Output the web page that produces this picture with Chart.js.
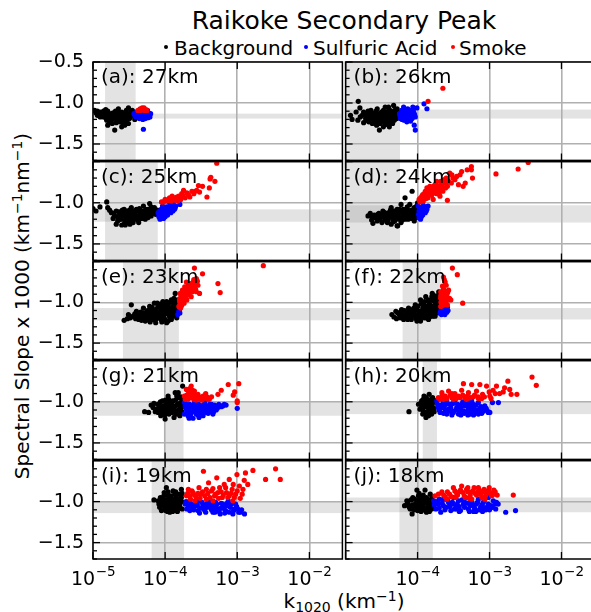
<!DOCTYPE html>
<html>
<head>
<meta charset="utf-8">
<script src="https://cdn.jsdelivr.net/npm/chart.js@4.4.1/dist/chart.umd.min.js"></script>
<style>
  html, body { margin: 0; padding: 0; background: #fff; }
  body { position: relative; width: 591px; height: 612px; overflow: hidden;
         font-family: 'DejaVu Sans', sans-serif; color: #000; }
  canvas { position: absolute; }
  .t { position: absolute; white-space: nowrap; line-height: 1; }
  .dot { position: absolute; width: 4px; height: 4px; border-radius: 50%; }
  .sup { font-size: 0.7em; position: relative; top: -0.5em; }
  .sub { font-size: 0.7em; position: relative; top: 0.3em; }
</style>
</head>
<body>
<div class="t" style="left:0;width:688px;text-align:center;top:8px;font-size:25px">Raikoke Secondary Peak</div>

<div class="dot" style="left:164px;top:45px;background:#000"></div>
<div class="t" style="left:174px;top:38px;font-size:20px">Background</div>
<div class="dot" style="left:304px;top:45px;background:#0000ff"></div>
<div class="t" style="left:313px;top:38px;font-size:20px">Sulfuric Acid</div>
<div class="dot" style="left:451px;top:45px;background:#ff0000"></div>
<div class="t" style="left:459px;top:38px;font-size:20px">Smoke</div>

<div class="t" style="left:22px;top:306px;font-size:20px;transform:translate(-50%,-50%) rotate(-90deg)">Spectral Slope x 1000 (km<span class="sup">−1</span>nm<span class="sup">−1</span>)</div>
<div class="t" style="left:0;width:688px;text-align:center;top:591px;font-size:20px">k<span class="sub">1020</span> (km<span class="sup">−1</span>)</div>

<script>
// ---- values: k1020 (km^-1) vs spectral slope x 1000, per altitude ----
const PANEL_LABELS = ['(a): 27km', '(b): 26km', '(c): 25km', '(d): 24km', '(e): 23km',
                      '(f): 22km', '(g): 21km', '(h): 20km', '(i): 19km', '(j): 18km'];

const bg27 = [[1.05e-5,-1.09],[1.15e-5,-1.10],[1.26e-5,-1.11],[1.4e-5,-1.10],[1.5e-5,-1.08],[1.6e-5,-1.10],[1.7e-5,-1.13],[1.55e-5,-1.15],[1.8e-5,-1.15],[1.9e-5,-1.12],[2.1e-5,-1.13],[2.25e-5,-1.07],[2.3e-5,-1.15],[2.5e-5,-1.11],[2.6e-5,-1.17],[2.75e-5,-1.12],[2.9e-5,-1.09],[3.1e-5,-1.06],[3.2e-5,-1.13],[3.4e-5,-1.10],[3.6e-5,-1.15],[3.8e-5,-1.20],[2.9e-5,-1.21],[2.6e-5,-1.25],[2.35e-5,-1.23],[2.15e-5,-1.21],[1.9e-5,-1.19],[1.7e-5,-1.23],[1.6e-5,-1.27],[2.0e-5,-1.33],[2.5e-5,-1.29],[2.75e-5,-1.27],[3.2e-5,-1.19],[1.4e-5,-1.17],[1.3e-5,-1.13],[1.26e-5,-1.17],[1.1e-5,-1.12],[3.5e-5,-1.09],[2.2e-5,-1.17],[2.4e-5,-1.18],[1.55e-5,-1.21],[1.85e-5,-1.25],[3.1e-5,-1.25],[4.0e-5,-1.13],[2.5e-5,-1.15],[2.0e-5,-1.15],[2.75e-5,-1.19],[2.25e-5,-1.11],[3.2e-5,-1.15],
  [1.2e-5,-1.14],[1.35e-5,-1.12],[1.45e-5,-1.14],[1.65e-5,-1.16],[1.75e-5,-1.18],[1.95e-5,-1.16],[2.05e-5,-1.10],[2.15e-5,-1.16],[2.3e-5,-1.19],[2.4e-5,-1.13],[2.55e-5,-1.20],[2.65e-5,-1.14],[2.85e-5,-1.16],[2.95e-5,-1.13],[3.0e-5,-1.18],[3.3e-5,-1.17],[3.5e-5,-1.13],[3.7e-5,-1.11],[1.8e-5,-1.21],[2.1e-5,-1.24],[2.45e-5,-1.22],[2.8e-5,-1.23],[1.5e-5,-1.18],[1.15e-5,-1.15]];
const sa27 = [[3.7e-5,-1.13],[4.0e-5,-1.11],[4.2e-5,-1.15],[4.5e-5,-1.13],[4.7e-5,-1.17],[5.0e-5,-1.11],[5.25e-5,-1.14],[5.5e-5,-1.12],[5.85e-5,-1.15],[6.15e-5,-1.17],[4.4e-5,-1.19],[4.9e-5,-1.20],[5.4e-5,-1.18],[4.1e-5,-1.17],[5.7e-5,-1.09],[6.3e-5,-1.13],[5.0e-5,-1.32],[4.6e-5,-1.10],[5.2e-5,-1.16],[3.9e-5,-1.17],
  [4.3e-5,-1.12],[4.8e-5,-1.14],[5.3e-5,-1.12],[5.6e-5,-1.14],[5.9e-5,-1.12],[4.3e-5,-1.16],[4.8e-5,-1.17],[5.3e-5,-1.19],[5.8e-5,-1.18],[6.0e-5,-1.15],[3.8e-5,-1.15],[4.5e-5,-1.18]];
const sm27 = [[4.2e-5,-1.09],[4.5e-5,-1.07],[4.8e-5,-1.06],[5.1e-5,-1.06],[5.4e-5,-1.08],[5.6e-5,-1.09],[4.6e-5,-1.09],[5.2e-5,-1.09]];

const bg26 = [[1.17e-5,-1.15],[1.23e-5,-1.20],[1.5e-5,-0.98],[1.58e-5,-1.06],[1.4e-5,-1.11],[1.48e-5,-1.21],[1.7e-5,-1.15],[1.78e-5,-1.11],[1.9e-5,-1.19],[2.0e-5,-1.13],[2.1e-5,-1.23],[2.25e-5,-1.09],[2.35e-5,-1.17],[2.45e-5,-1.13],[2.6e-5,-1.21],[2.75e-5,-1.07],[2.9e-5,-1.15],[2.95e-5,-1.33],[3.0e-5,-1.25],[3.15e-5,-1.11],[3.4e-5,-1.19],[3.55e-5,-1.05],[3.7e-5,-1.26],[3.8e-5,-1.13],[3.95e-5,-1.21],[4.15e-5,-1.09],[4.25e-5,-1.17],[4.5e-5,-1.25],[4.65e-5,-1.03],[4.9e-5,-1.13],[5.1e-5,-1.19],[5.2e-5,-1.07],[4.05e-5,-1.29],[3.35e-5,-1.29],[2.7e-5,-1.27],[2.35e-5,-1.25],[2.0e-5,-1.21],[1.78e-5,-1.24],[1.6e-5,-1.17],[2.5e-5,-1.17],[3.15e-5,-1.15],[3.55e-5,-1.13],[3.75e-5,-1.19],[4.4e-5,-1.15],[4.75e-5,-1.21],[3.0e-5,-1.19],[2.75e-5,-1.13],[2.25e-5,-1.15],[3.35e-5,-1.09],[3.95e-5,-1.05],
  [1.85e-5,-1.13],[1.95e-5,-1.16],[2.05e-5,-1.10],[2.15e-5,-1.19],[2.3e-5,-1.12],[2.4e-5,-1.20],[2.55e-5,-1.14],[2.65e-5,-1.10],[2.8e-5,-1.18],[2.85e-5,-1.22],[3.05e-5,-1.13],[3.2e-5,-1.22],[3.3e-5,-1.16],[3.45e-5,-1.11],[3.6e-5,-1.23],[3.7e-5,-1.16],[3.9e-5,-1.10],[4.0e-5,-1.15],[4.2e-5,-1.20],[4.35e-5,-1.11],[4.6e-5,-1.17],[4.8e-5,-1.09],[5.0e-5,-1.16],[5.3e-5,-1.12],[5.4e-5,-1.18],[4.1e-5,-1.24],[3.5e-5,-1.25],[2.5e-5,-1.24]];
const sa26 = [[5.6e-5,-1.13],[5.8e-5,-1.19],[6.0e-5,-1.09],[6.2e-5,-1.15],[6.5e-5,-1.21],[6.7e-5,-1.11],[7.0e-5,-1.17],[7.3e-5,-1.07],[7.5e-5,-1.13],[7.8e-5,-1.19],[8.1e-5,-1.10],[8.3e-5,-1.15],[8.6e-5,-1.05],[8.9e-5,-1.12],[9.3e-5,-1.17],[6.4e-5,-1.05],[7.1e-5,-1.23],[8.0e-5,-1.22],[9.0e-5,-1.27],[9.3e-5,-1.33],[1.23e-4,-1.01],[1.35e-4,-1.07],[9.8e-5,-1.06],[5.7e-5,-1.16],[6.9e-5,-1.14],[7.7e-5,-1.09],
  [5.9e-5,-1.12],[6.3e-5,-1.18],[6.6e-5,-1.14],[6.8e-5,-1.08],[7.2e-5,-1.12],[7.4e-5,-1.19],[7.9e-5,-1.14],[8.4e-5,-1.19],[8.7e-5,-1.09],[9.1e-5,-1.14],[6.1e-5,-1.20],[7.6e-5,-1.16]];
const sm26 = [[1.4e-4,-0.98],[2.25e-4,-0.82]];

const bg25 = [[1.0e-5,-1.07],[1.1e-5,-1.10],[1.25e-5,-1.05],[1.55e-5,-0.99],[1.6e-5,-1.06],[1.8e-5,-1.12],[2.0e-5,-1.16],[2.1e-5,-1.10],[2.35e-5,-1.20],[2.5e-5,-1.14],[2.7e-5,-1.08],[2.75e-5,-1.24],[2.9e-5,-1.18],[3.1e-5,-1.12],[3.25e-5,-1.26],[3.4e-5,-1.06],[3.6e-5,-1.20],[3.8e-5,-1.14],[4.0e-5,-1.08],[4.3e-5,-1.24],[4.5e-5,-1.17],[4.8e-5,-1.10],[5.0e-5,-1.04],[5.3e-5,-1.20],[5.5e-5,-1.13],[5.8e-5,-1.08],[6.1e-5,-1.01],[6.4e-5,-1.16],[6.75e-5,-1.10],[7.1e-5,-1.06],[7.4e-5,-1.14],[7.8e-5,-1.09],[2.2e-5,-1.22],[2.5e-5,-1.27],[3.4e-5,-1.22],[4.0e-5,-1.20],[5.0e-5,-1.18],[3.1e-5,-1.20],[1.9e-5,-1.19],[2.1e-5,-1.26],[2.6e-5,-1.16],[3.25e-5,-1.14],[4.5e-5,-1.12],[5.8e-5,-1.18],[6.4e-5,-1.05],[3.6e-5,-1.10],[2.9e-5,-1.10],[2.35e-5,-1.14],[5.4e-5,-1.08],
  [1.7e-5,-1.09],[1.95e-5,-1.13],[2.2e-5,-1.17],[2.3e-5,-1.11],[2.45e-5,-1.20],[2.55e-5,-1.09],[2.65e-5,-1.13],[2.8e-5,-1.21],[2.85e-5,-1.14],[3.0e-5,-1.16],[3.2e-5,-1.09],[3.3e-5,-1.18],[3.5e-5,-1.14],[3.7e-5,-1.17],[3.9e-5,-1.11],[4.1e-5,-1.16],[4.2e-5,-1.21],[4.4e-5,-1.07],[4.6e-5,-1.14],[4.7e-5,-1.19],[4.9e-5,-1.12],[5.2e-5,-1.15],[5.6e-5,-1.10],[5.7e-5,-1.16],[6.0e-5,-1.12],[6.2e-5,-1.08],[6.6e-5,-1.13],[6.9e-5,-1.07],[7.2e-5,-1.11],[7.6e-5,-1.12],[3.0e-5,-1.24],[3.6e-5,-1.24],[2.8e-5,-1.27]];
const sa25 = [[8.0e-5,-1.12],[8.2e-5,-1.17],[8.8e-5,-1.08],[9.0e-5,-1.14],[9.5e-5,-1.19],[1.0e-4,-1.10],[1.05e-4,-1.05],[1.08e-4,-1.15],[1.12e-4,-1.09],[1.18e-4,-1.03],[1.2e-4,-1.12],[1.25e-4,-1.06],[1.3e-4,-1.02],[1.35e-4,-1.08],[1.4e-4,-1.04],[1.6e-4,-1.02],[9.2e-5,-1.04],[8.5e-5,-1.20],[1.0e-4,-1.17],[1.15e-4,-1.00],[9.7e-5,-1.12],[1.1e-4,-1.12],[1.28e-4,-1.10],
  [8.4e-5,-1.10],[8.7e-5,-1.15],[9.3e-5,-1.09],[9.6e-5,-1.15],[1.02e-4,-1.07],[1.04e-4,-1.13],[1.07e-4,-1.10],[1.14e-4,-1.06],[1.17e-4,-1.11],[1.22e-4,-1.08],[1.32e-4,-1.05],[1.38e-4,-1.06],[9.0e-5,-1.18]];
const sm25 = [[8.9e-5,-0.99],[1.05e-4,-0.98],[1.15e-4,-0.94],[1.3e-4,-0.96],[1.45e-4,-0.93],[1.6e-4,-0.95],[1.75e-4,-0.91],[1.9e-4,-0.94],[1.8e-4,-0.85],[2.1e-4,-0.90],[2.35e-4,-0.86],[2.5e-4,-0.89],[2.75e-4,-0.85],[2.9e-4,-0.79],[3.0e-4,-0.87],[3.3e-4,-0.80],[3.8e-4,-0.93],[4.1e-4,-0.82],[4.2e-4,-0.71],[4.3e-4,-0.69],[4.9e-4,-0.74],[5.2e-4,-0.52],[1.22e-4,-0.98],[1.5e-4,-0.98],[1.38e-4,-0.94],
  [9.5e-5,-0.99],[1.0e-4,-0.96],[1.1e-4,-0.97],[1.2e-4,-0.95],[1.25e-4,-0.92],[1.4e-4,-0.97],[1.55e-4,-0.92],[1.65e-4,-0.96],[1.7e-4,-0.89],[2.0e-4,-0.88],[2.2e-4,-0.93],[2.6e-4,-0.86]];

const bg24 = [[2.05e-5,-1.16],[2.2e-5,-1.13],[2.4e-5,-1.25],[2.6e-5,-1.18],[2.8e-5,-1.14],[3.0e-5,-1.20],[3.3e-5,-1.10],[3.6e-5,-1.17],[3.8e-5,-1.24],[4.0e-5,-1.12],[4.3e-5,-1.06],[4.5e-5,-1.19],[4.9e-5,-1.14],[5.3e-5,-1.28],[5.2e-5,-1.08],[5.5e-5,-1.20],[5.9e-5,-1.02],[6.3e-5,-1.14],[6.7e-5,-0.94],[6.9e-5,-1.08],[7.4e-5,-1.20],[7.8e-5,-1.02],[8.4e-5,-0.86],[8.6e-5,-1.12],[9.0e-5,-1.06],[9.5e-5,-1.18],[1.0e-4,-1.00],[1.0e-4,-1.14],[3.2e-5,-1.24],[4.3e-5,-1.26],[4.8e-5,-1.22],[5.9e-5,-1.24],[7.1e-5,-1.16],[8.0e-5,-1.16],[9.0e-5,-1.22],[2.75e-5,-1.22],[3.4e-5,-1.16],[5.0e-5,-1.17],[3.8e-5,-1.18],[6.3e-5,-1.08],[7.6e-5,-1.10],[9.5e-5,-1.08],[5.5e-5,-1.12],[2.35e-5,-1.18],[2.95e-5,-1.16],[6.7e-5,-1.20],[5.2e-5,-1.28],
  [2.3e-5,-1.21],[2.5e-5,-1.15],[2.7e-5,-1.19],[2.9e-5,-1.13],[3.1e-5,-1.17],[3.2e-5,-1.14],[3.5e-5,-1.21],[3.5e-5,-1.12],[3.7e-5,-1.15],[3.9e-5,-1.21],[4.1e-5,-1.16],[4.2e-5,-1.09],[4.4e-5,-1.13],[4.6e-5,-1.23],[4.7e-5,-1.10],[4.9e-5,-1.19],[5.1e-5,-1.12],[5.4e-5,-1.16],[5.6e-5,-1.08],[5.7e-5,-1.18],[6.0e-5,-1.11],[6.1e-5,-1.21],[6.5e-5,-1.17],[6.6e-5,-1.11],[7.0e-5,-1.13],[7.2e-5,-1.05],[7.3e-5,-1.18],[7.8e-5,-1.13],[8.2e-5,-1.09],[8.3e-5,-1.19],[8.8e-5,-1.15],[9.2e-5,-1.11],[9.7e-5,-1.04],[9.9e-5,-1.10]];
const sa24 = [[1.02e-4,-1.04],[1.05e-4,-1.10],[1.08e-4,-1.16],[1.12e-4,-1.06],[1.15e-4,-1.12],[1.2e-4,-1.03],[1.25e-4,-1.09],[1.3e-4,-1.05],[1.35e-4,-1.08],[1.1e-4,-1.20],[1.18e-4,-1.15],[1.05e-4,-1.18],[1.4e-4,-1.04],[1.28e-4,-1.12],
  [1.07e-4,-1.07],[1.1e-4,-1.13],[1.13e-4,-1.17],[1.17e-4,-1.08],[1.22e-4,-1.12],[1.27e-4,-1.06],[1.32e-4,-1.10],[1.03e-4,-1.14]];
const sm24 = [[1.05e-4,-0.96],[1.15e-4,-0.92],[1.2e-4,-0.98],[1.25e-4,-0.89],[1.35e-4,-0.82],[1.4e-4,-0.94],[1.5e-4,-0.86],[1.57e-4,-0.91],[1.65e-4,-0.80],[1.72e-4,-0.88],[1.85e-4,-0.74],[1.95e-4,-0.84],[2.05e-4,-0.92],[2.15e-4,-0.78],[2.25e-4,-0.86],[2.35e-4,-0.72],[2.45e-4,-0.82],[2.6e-4,-0.97],[2.8e-4,-0.64],[2.95e-4,-0.76],[3.1e-4,-0.70],[3.5e-4,-0.68],[3.7e-4,-0.78],[3.9e-4,-0.66],[4.3e-4,-0.80],[4.6e-4,-0.76],[4.9e-4,-0.60],[5.6e-4,-0.56],[5.6e-4,-0.60],[5.8e-4,-0.70],[1.23e-3,-0.65],[2.5e-3,-0.59],[3.45e-3,-0.51],[1.15e-4,-0.98],[1.3e-4,-0.95],[1.57e-4,-0.85],[1.85e-4,-0.89],[2.15e-4,-0.82],[2.45e-4,-0.76],[1.65e-4,-0.96],[1.4e-4,-0.88],
  [1.08e-4,-0.99],[1.1e-4,-0.94],[1.18e-4,-0.90],[1.22e-4,-0.95],[1.28e-4,-0.86],[1.32e-4,-0.92],[1.38e-4,-0.85],[1.45e-4,-0.90],[1.48e-4,-0.80],[1.53e-4,-0.88],[1.6e-4,-0.83],[1.7e-4,-0.85],[1.75e-4,-0.78],[1.8e-4,-0.82],[1.9e-4,-0.79],[2.0e-4,-0.88],[2.1e-4,-0.74],[2.2e-4,-0.80],[2.3e-4,-0.76],[2.5e-4,-0.70],[2.7e-4,-0.74],[2.6e-4,-0.80],[3.0e-4,-0.66],[3.3e-4,-0.72],[4.1e-4,-0.62]];

const bg23 = [[2.7e-5,-1.22],[3.4e-5,-1.03],[3.1e-5,-1.15],[3.6e-5,-1.17],[4.0e-5,-1.11],[4.3e-5,-1.21],[4.8e-5,-1.15],[5.0e-5,-1.07],[5.3e-5,-1.23],[5.5e-5,-1.13],[6.1e-5,-1.05],[6.4e-5,-1.19],[6.75e-5,-1.11],[7.1e-5,-1.01],[7.4e-5,-1.25],[7.8e-5,-1.15],[8.5e-5,-1.05],[8.8e-5,-1.21],[9.3e-5,-0.99],[9.8e-5,-1.11],[1.05e-4,-1.25],[1.1e-4,-1.05],[1.15e-4,-1.17],[1.22e-4,-0.97],[1.3e-4,-1.11],[1.38e-4,-0.89],[1.42e-4,-1.03],[1.45e-4,-1.19],[1.52e-4,-1.09],[4.5e-5,-1.19],[5.8e-5,-1.17],[7.1e-5,-1.15],[8.5e-5,-1.15],[9.3e-5,-1.19],[1.05e-4,-1.13],[1.15e-4,-1.07],[7.4e-5,-1.09],[6.4e-5,-1.09],[5.5e-5,-1.19],[9.8e-5,-1.03],[1.3e-4,-1.01],[8.8e-5,-1.09],[1.38e-4,-1.15],[1.22e-4,-1.21],[6.75e-5,-1.21],[5.0e-5,-1.17],[1.1e-4,-1.23],[7.8e-5,-1.01],[1.05e-4,-0.99],[1.52e-4,-0.97],
  [3.0e-5,-1.20],[3.3e-5,-1.19],[3.8e-5,-1.14],[3.9e-5,-1.20],[4.2e-5,-1.16],[4.6e-5,-1.12],[4.7e-5,-1.22],[5.1e-5,-1.13],[5.2e-5,-1.20],[5.7e-5,-1.10],[5.9e-5,-1.14],[6.0e-5,-1.22],[6.3e-5,-1.15],[6.6e-5,-1.06],[6.9e-5,-1.17],[7.2e-5,-1.12],[7.6e-5,-1.20],[7.9e-5,-1.06],[8.1e-5,-1.12],[8.3e-5,-1.18],[8.7e-5,-1.02],[9.0e-5,-1.13],[9.5e-5,-1.07],[9.6e-5,-1.16],[1.0e-4,-1.21],[1.02e-4,-1.09],[1.08e-4,-1.14],[1.12e-4,-1.01],[1.18e-4,-1.10],[1.2e-4,-1.15],[1.25e-4,-1.06],[1.28e-4,-1.17],[1.33e-4,-0.95],[1.35e-4,-1.08],[1.4e-4,-1.12],[1.44e-4,-0.99],[1.48e-4,-1.05],[1.5e-4,-1.13],[1.18e-4,-1.19],[9.0e-5,-1.24],[6.2e-5,-1.24]];
const sa23 = [[1.55e-4,-1.11],[1.6e-4,-1.13],[1.5e-4,-1.15],[1.58e-4,-1.09]];
const sm23 = [[1.55e-4,-1.05],[1.58e-4,-0.97],[1.62e-4,-0.89],[1.68e-4,-1.01],[1.74e-4,-0.85],[1.78e-4,-0.93],[1.87e-4,-0.81],[1.93e-4,-0.89],[2.0e-4,-0.97],[2.08e-4,-0.77],[2.19e-4,-0.85],[2.3e-4,-0.93],[2.44e-4,-0.75],[2.55e-4,-0.83],[2.71e-4,-0.71],[2.85e-4,-0.79],[3.0e-4,-0.89],[2.55e-4,-0.58],[3.3e-4,-0.65],[5.4e-4,-0.77],[5.8e-4,-0.88],[2.3e-3,-0.55],[1.64e-4,-1.07],[1.83e-4,-1.01],[1.97e-4,-0.75],[2.24e-4,-0.80],[2.08e-4,-0.91],[2.71e-4,-0.87],[2.38e-4,-0.87],[1.74e-4,-0.95],
  [1.6e-4,-1.00],[1.65e-4,-0.93],[1.7e-4,-0.97],[1.72e-4,-0.88],[1.76e-4,-0.99],[1.8e-4,-0.87],[1.85e-4,-0.94],[1.9e-4,-0.84],[1.95e-4,-0.92],[2.03e-4,-0.85],[2.12e-4,-0.81],[2.15e-4,-0.88],[2.25e-4,-0.77],[2.35e-4,-0.84],[2.4e-4,-0.79],[2.5e-4,-0.72],[2.6e-4,-0.78],[2.65e-4,-0.84],[2.8e-4,-0.74],[1.6e-4,-1.05],[1.7e-4,-1.04]];

const bg22 = [[4.4e-5,-1.15],[5.0e-5,-1.11],[5.1e-5,-1.20],[5.6e-5,-1.15],[6.0e-5,-1.09],[6.4e-5,-1.21],[6.9e-5,-1.13],[7.5e-5,-1.07],[7.9e-5,-1.19],[8.6e-5,-1.11],[9.3e-5,-1.03],[9.8e-5,-1.23],[1.03e-4,-1.15],[1.1e-4,-0.97],[1.18e-4,-1.07],[1.23e-4,-1.19],[1.3e-4,-0.93],[1.37e-4,-1.11],[1.45e-4,-1.01],[1.52e-4,-1.17],[1.6e-4,-0.89],[1.7e-4,-1.07],[1.8e-4,-0.97],[1.88e-4,-1.13],[1.97e-4,-0.87],[1.97e-4,-1.03],[7.1e-5,-1.17],[8.8e-5,-1.17],[1.08e-4,-1.11],[1.15e-4,-1.17],[1.33e-4,-1.15],[1.48e-4,-1.07],[1.65e-4,-1.13],[1.85e-4,-1.05],[8.3e-5,-1.13],[9.8e-5,-1.09],[1.21e-4,-1.03],[1.56e-4,-0.97],[1.75e-4,-0.93],[1.92e-4,-0.95],[1.42e-4,-1.21],[1.75e-4,-1.17],[5.75e-5,-1.19],[1.1e-4,-1.23],
  [4.7e-5,-1.18],[5.3e-5,-1.13],[5.8e-5,-1.12],[6.2e-5,-1.16],[6.6e-5,-1.10],[6.7e-5,-1.18],[7.2e-5,-1.12],[7.3e-5,-1.21],[7.7e-5,-1.15],[8.0e-5,-1.09],[8.2e-5,-1.21],[8.9e-5,-1.07],[9.0e-5,-1.13],[9.5e-5,-1.16],[9.6e-5,-1.20],[1.0e-4,-1.05],[1.05e-4,-1.12],[1.06e-4,-1.19],[1.12e-4,-1.02],[1.13e-4,-1.14],[1.2e-4,-1.10],[1.25e-4,-0.99],[1.27e-4,-1.13],[1.3e-4,-1.19],[1.35e-4,-1.05],[1.4e-4,-0.97],[1.4e-4,-1.13],[1.5e-4,-1.03],[1.52e-4,-1.11],[1.58e-4,-0.93],[1.6e-4,-1.05],[1.62e-4,-1.17],[1.68e-4,-0.98],[1.72e-4,-1.11],[1.78e-4,-1.01],[1.82e-4,-1.09],[1.9e-4,-0.99],[1.95e-4,-1.08],[1.65e-4,-0.91],[1.85e-4,-0.92],[1.3e-4,-1.08]];
const sa22 = [[2.06e-4,-1.13],[2.2e-4,-1.09],[2.35e-4,-1.12],[2.5e-4,-1.08],[2.65e-4,-1.10],[2.15e-4,-1.15],[2.4e-4,-1.15],[2.6e-4,-1.06],
  [2.1e-4,-1.10],[2.25e-4,-1.13],[2.3e-4,-1.08],[2.45e-4,-1.11],[2.55e-4,-1.12]];
const sm22 = [[2.1e-4,-1.05],[2.15e-4,-0.99],[2.25e-4,-0.93],[2.1e-4,-0.87],[2.29e-4,-0.83],[2.42e-4,-0.89],[2.55e-4,-0.97],[2.7e-4,-0.85],[2.78e-4,-0.95],[2.35e-4,-1.03],[2.6e-4,-1.03],[2.9e-4,-0.97],[2.29e-4,-0.69],[2.42e-4,-0.75],[2.5e-4,-0.79],[3.05e-4,-0.58],[3.57e-4,-0.66],[4.24e-4,-1.01],[2.15e-4,-0.93],[2.55e-4,-0.91],[2.25e-4,-0.97],
  [2.1e-4,-0.92],[2.12e-4,-1.00],[2.18e-4,-0.96],[2.2e-4,-0.89],[2.2e-4,-1.04],[2.28e-4,-1.00],[2.3e-4,-0.90],[2.35e-4,-0.95],[2.38e-4,-0.86],[2.45e-4,-0.98],[2.48e-4,-0.93],[2.52e-4,-1.02],[2.62e-4,-0.88],[2.65e-4,-0.95],[2.22e-4,-0.80],[2.35e-4,-0.72],[2.1e-4,-0.95]];

const bg21 = [[5.2e-5,-1.12],[5.9e-5,-1.13],[6.4e-5,-1.04],[7.0e-5,-1.02],[7.6e-5,-1.09],[8.3e-5,-1.05],[8.7e-5,-1.17],[9.2e-5,-0.99],[9.6e-5,-1.11],[1.0e-4,-1.21],[1.03e-4,-1.03],[1.1e-4,-0.93],[1.13e-4,-1.15],[1.18e-4,-1.07],[1.28e-4,-0.99],[1.33e-4,-1.19],[1.38e-4,-0.89],[1.42e-4,-1.11],[1.47e-4,-1.03],[1.57e-4,-0.95],[1.6e-4,-1.17],[1.68e-4,-1.07],[1.75e-4,-0.81],[1.75e-4,-0.99],[1.23e-4,-1.13],[8.9e-5,-1.08],[9.9e-5,-1.16],[1.1e-4,-1.09],[1.45e-4,-1.15],[1.57e-4,-1.09],[1.3e-4,-1.05],[8.0e-5,-1.13],[1.15e-4,-1.01],[1.63e-4,-1.01],[1.52e-4,-0.89],
  [6.8e-5,-1.07],[7.3e-5,-1.12],[7.9e-5,-1.03],[8.2e-5,-1.10],[8.6e-5,-1.00],[9.0e-5,-1.13],[9.4e-5,-1.05],[9.8e-5,-1.09],[1.01e-4,-0.98],[1.06e-4,-1.12],[1.08e-4,-1.05],[1.12e-4,-0.97],[1.2e-4,-1.11],[1.22e-4,-1.02],[1.25e-4,-1.08],[1.35e-4,-1.06],[1.4e-4,-0.98],[1.5e-4,-1.12],[1.55e-4,-1.04],[1.65e-4,-0.94],[1.7e-4,-1.12],[1.72e-4,-1.04],[1.45e-4,-0.93],[1.36e-4,-1.13]];
const sa21 = [[1.85e-4,-1.01],[1.97e-4,-1.09],[2.08e-4,-1.17],[2.19e-4,-1.03],[2.3e-4,-1.13],[2.44e-4,-1.20],[2.55e-4,-1.01],[2.7e-4,-1.08],[2.85e-4,-1.16],[3.0e-4,-1.04],[3.2e-4,-1.11],[3.36e-4,-1.17],[3.55e-4,-1.01],[3.75e-4,-1.07],[3.95e-4,-1.14],[4.15e-4,-1.03],[4.4e-4,-1.08],[4.6e-4,-1.15],[4.85e-4,-1.04],[5.1e-4,-1.10],[5.55e-4,-1.03],[6.0e-4,-1.06],[6.6e-4,-1.03],[7.0e-4,-1.04],[1.0e-3,-1.08],[2.19e-4,-1.11],[2.7e-4,-1.15],[3.0e-4,-1.11],[3.55e-4,-1.09],[1.97e-4,-1.03],[4.4e-4,-1.03],[1.85e-4,-1.15],[2.44e-4,-1.07],[3.75e-4,-1.13],
  [1.9e-4,-1.06],[2.0e-4,-1.13],[2.12e-4,-1.07],[2.25e-4,-1.16],[2.35e-4,-1.05],[2.5e-4,-1.12],[2.6e-4,-1.05],[2.8e-4,-1.10],[2.9e-4,-1.03],[3.1e-4,-1.07],[3.25e-4,-1.14],[3.4e-4,-1.04],[3.5e-4,-1.12],[3.65e-4,-1.05],[3.85e-4,-1.10],[4.05e-4,-1.06],[4.25e-4,-1.12],[4.55e-4,-1.08],[4.7e-4,-1.12],[5.0e-4,-1.06],[5.3e-4,-1.08],[5.8e-4,-1.05],[6.3e-4,-1.05],[2.15e-4,-1.20],[2.95e-4,-1.19]];
const sm21 = [[1.85e-4,-0.93],[1.97e-4,-0.85],[2.08e-4,-0.97],[2.19e-4,-0.89],[2.3e-4,-0.81],[2.44e-4,-0.95],[2.55e-4,-0.87],[2.7e-4,-0.98],[2.85e-4,-0.91],[3.0e-4,-0.97],[3.36e-4,-0.93],[3.65e-4,-0.90],[3.95e-4,-0.97],[4.4e-4,-0.94],[5.4e-4,-0.91],[6.0e-4,-0.86],[7.5e-4,-0.79],[8.8e-4,-0.92],[9.2e-4,-0.88],[1.05e-3,-0.78],[1.0e-3,-0.99],[1.0e-3,-1.01],[2.08e-4,-0.91],[2.7e-4,-0.93],[3.2e-4,-0.98],
  [1.9e-4,-0.97],[2.0e-4,-0.92],[2.12e-4,-0.87],[2.25e-4,-0.95],[2.35e-4,-0.90],[2.5e-4,-0.97],[2.6e-4,-0.92],[2.78e-4,-0.95],[2.95e-4,-0.94],[3.1e-4,-0.95],[3.3e-4,-0.97],[3.5e-4,-0.95],[3.8e-4,-0.94],[4.1e-4,-0.97],[2.2e-4,-0.84],[2.4e-4,-0.86]];

const bg20 = [[7.6e-5,-1.12],[1.03e-4,-1.03],[1.08e-4,-1.09],[1.14e-4,-0.99],[1.18e-4,-1.15],[1.23e-4,-0.93],[1.27e-4,-1.06],[1.31e-4,-1.19],[1.37e-4,-0.97],[1.42e-4,-1.11],[1.45e-4,-0.91],[1.52e-4,-1.03],[1.57e-4,-1.15],[1.62e-4,-0.95],[1.7e-4,-1.08],[1.14e-4,-1.05],[1.33e-4,-1.01],[1.48e-4,-1.09],[1.65e-4,-1.01],[1.2e-4,-1.11],[1.42e-4,-1.17],[1.27e-4,-0.99],
  [1.1e-4,-1.02],[1.16e-4,-1.08],[1.22e-4,-1.02],[1.25e-4,-1.13],[1.3e-4,-0.95],[1.35e-4,-1.04],[1.38e-4,-1.13],[1.45e-4,-1.00],[1.5e-4,-1.12],[1.55e-4,-0.97],[1.6e-4,-1.06],[1.68e-4,-0.98],[1.7e-4,-1.12],[1.4e-4,-1.07],[1.2e-4,-0.97]];
const sa20 = [[1.85e-4,-0.99],[1.95e-4,-1.07],[2.06e-4,-1.13],[2.29e-4,-1.01],[2.42e-4,-1.10],[2.55e-4,-1.15],[2.83e-4,-1.03],[3.0e-4,-1.11],[3.3e-4,-0.99],[3.5e-4,-1.07],[3.7e-4,-1.15],[4.1e-4,-1.03],[4.34e-4,-1.11],[4.8e-4,-0.99],[5.1e-4,-1.07],[5.37e-4,-1.15],[5.95e-4,-1.03],[6.3e-4,-1.11],[7.0e-4,-1.01],[7.35e-4,-1.08],[7.8e-4,-1.14],[8.6e-4,-1.05],[9.3e-4,-1.11],[1.01e-3,-1.13],[1.1e-3,-1.01],[1.33e-3,-1.01],[2.18e-4,-1.07],[2.7e-4,-1.09],[3.15e-4,-1.13],[3.9e-4,-1.09],[4.55e-4,-1.05],[5.65e-4,-1.09],[6.6e-4,-1.13],[8.2e-4,-1.09],[2.55e-4,-0.99],[5.65e-4,-0.99],
  [1.9e-4,-1.03],[2.0e-4,-1.10],[2.12e-4,-1.04],[2.35e-4,-1.06],[2.48e-4,-1.03],[2.62e-4,-1.12],[2.9e-4,-1.07],[3.1e-4,-1.02],[3.4e-4,-1.10],[3.6e-4,-1.03],[3.8e-4,-1.12],[4.0e-4,-1.06],[4.25e-4,-1.00],[4.45e-4,-1.14],[4.7e-4,-1.04],[4.95e-4,-1.11],[5.25e-4,-1.02],[5.5e-4,-1.12],[5.8e-4,-1.06],[6.1e-4,-1.08],[6.5e-4,-1.04],[6.9e-4,-1.10],[7.6e-4,-1.06],[8.0e-4,-1.12],[9.0e-4,-1.08],[9.6e-4,-1.13],[2.3e-4,-1.14],[3.0e-4,-1.16],[4.0e-4,-1.16],[5.0e-4,-1.16],[6.0e-4,-1.16],[7.0e-4,-1.15]];
const sm20 = [[1.95e-4,-0.95],[2.18e-4,-0.89],[2.42e-4,-0.93],[2.7e-4,-0.87],[3.0e-4,-0.95],[3.3e-4,-0.90],[3.7e-4,-0.93],[4.1e-4,-0.86],[4.34e-4,-0.78],[4.55e-4,-0.95],[5.1e-4,-0.89],[5.65e-4,-0.79],[5.95e-4,-0.94],[6.6e-4,-0.87],[7.35e-4,-0.79],[8.0e-4,-0.91],[9.1e-4,-0.81],[9.9e-4,-0.88],[1.12e-3,-0.86],[1.25e-3,-0.81],[1.38e-3,-0.90],[1.62e-3,-0.83],[1.8e-3,-0.75],[1.91e-3,-0.85],[2.0e-3,-0.91],[2.4e-3,-0.91],[3.9e-3,-0.70],[4.47e-3,-0.80],[2.29e-4,-0.97],[3.15e-4,-0.97],[4.8e-4,-0.97],[7.0e-4,-0.96],[1.01e-3,-0.93],[1.55e-3,-0.88],
  [2.05e-4,-0.97],[2.3e-4,-0.94],[2.55e-4,-0.96],[2.85e-4,-0.92],[3.2e-4,-0.93],[3.45e-4,-0.96],[3.9e-4,-0.95],[4.25e-4,-0.92],[4.9e-4,-0.93],[5.4e-4,-0.95],[6.2e-4,-0.92],[6.9e-4,-0.94],[7.8e-4,-0.96],[8.5e-4,-0.94],[1.05e-3,-0.96],[1.2e-3,-0.90],[2.2e-4,-0.92],[3.0e-4,-0.90]];

const bg19 = [[7.0e-5,-0.98],[8.2e-5,-1.03],[8.6e-5,-0.95],[8.9e-5,-1.11],[9.7e-5,-0.89],[1.0e-4,-1.01],[1.04e-4,-1.07],[1.1e-4,-0.93],[1.16e-4,-1.13],[1.22e-4,-0.99],[1.29e-4,-1.05],[1.36e-4,-0.91],[1.44e-4,-1.11],[1.51e-4,-0.97],[1.6e-4,-1.03],[1.68e-4,-0.85],[1.73e-4,-1.09],[9.4e-5,-0.97],[1.1e-4,-1.03],[1.16e-4,-0.95],[1.36e-4,-1.01],[1.51e-4,-1.07],[1.02e-4,-1.11],[1.22e-4,-1.09],[1.68e-4,-0.95],[1.29e-4,-0.87],[1.04e-4,-0.83],
  [8.0e-5,-0.99],[8.4e-5,-1.07],[9.0e-5,-1.00],[9.2e-5,-1.05],[9.6e-5,-0.93],[9.9e-5,-1.09],[1.06e-4,-0.98],[1.08e-4,-1.12],[1.12e-4,-1.00],[1.14e-4,-1.06],[1.2e-4,-0.93],[1.25e-4,-1.02],[1.27e-4,-1.12],[1.32e-4,-0.97],[1.35e-4,-1.08],[1.4e-4,-1.04],[1.42e-4,-0.94],[1.48e-4,-1.12],[1.55e-4,-1.00],[1.58e-4,-0.91],[1.62e-4,-1.08],[1.7e-4,-1.00],[1.72e-4,-0.90],[1.1e-4,-0.88],[1.4e-4,-0.88]];
const sa19 = [[1.9e-4,-1.03],[2.0e-4,-1.09],[2.2e-4,-0.99],[2.4e-4,-1.07],[2.6e-4,-1.02],[2.85e-4,-1.11],[3.0e-4,-0.99],[3.35e-4,-1.05],[3.65e-4,-1.13],[3.95e-4,-0.99],[4.2e-4,-1.07],[4.6e-4,-1.13],[5.0e-4,-1.01],[5.4e-4,-1.09],[5.8e-4,-1.15],[6.3e-4,-1.03],[6.9e-4,-1.11],[7.5e-4,-0.99],[8.0e-4,-1.07],[8.7e-4,-1.15],[9.5e-4,-1.03],[1.02e-3,-1.09],[1.1e-3,-1.13],[1.26e-3,-1.15],[2.7e-4,-1.05],[3.73e-4,-1.03],[5.1e-4,-1.05],[7.06e-4,-1.05],[9.1e-4,-1.09],[2.2e-4,-1.11],[4.4e-4,-1.10],[5.95e-4,-1.08],[7.75e-4,-1.13],
  [1.95e-4,-1.00],[2.1e-4,-1.05],[2.3e-4,-1.03],[2.5e-4,-1.10],[2.65e-4,-0.99],[2.8e-4,-1.04],[3.1e-4,-1.08],[3.25e-4,-1.01],[3.5e-4,-1.10],[3.8e-4,-1.07],[4.1e-4,-1.01],[4.4e-4,-1.04],[4.8e-4,-1.08],[5.2e-4,-1.03],[5.6e-4,-1.12],[6.0e-4,-1.02],[6.5e-4,-1.08],[7.2e-4,-1.02],[8.3e-4,-1.03],[8.9e-4,-1.11],[9.8e-4,-1.06],[1.05e-3,-1.13],[1.15e-3,-1.10],[3.0e-4,-1.14],[4.9e-4,-1.13],[6.7e-4,-1.14]];
const sm19 = [[1.98e-4,-0.93],[2.1e-4,-0.85],[2.25e-4,-0.97],[2.44e-4,-0.89],[2.7e-4,-0.95],[2.95e-4,-0.83],[3.15e-4,-0.91],[3.4e-4,-0.63],[3.73e-4,-0.97],[4.0e-4,-0.77],[4.4e-4,-0.87],[4.85e-4,-0.93],[5.2e-4,-0.71],[5.7e-4,-0.83],[6.2e-4,-0.95],[6.6e-4,-0.79],[7.1e-4,-0.89],[7.75e-4,-0.73],[8.5e-4,-0.85],[9.1e-4,-0.95],[9.9e-4,-0.67],[1.07e-3,-0.81],[1.17e-3,-0.91],[1.3e-3,-0.65],[1.4e-3,-0.79],[1.65e-3,-0.62],[2.47e-3,-0.73],[3.4e-3,-0.60],[3.95e-3,-0.73],[2.6e-4,-0.99],[4.6e-4,-0.99],[8.7e-4,-0.99],[5.4e-4,-0.89],[1.0e-3,-0.87],[7.75e-4,-0.93],[3.73e-4,-0.85],
  [2.05e-4,-0.90],[2.2e-4,-0.93],[2.35e-4,-0.87],[2.55e-4,-0.92],[2.85e-4,-0.90],[3.05e-4,-0.96],[3.3e-4,-0.88],[3.55e-4,-0.93],[3.9e-4,-0.90],[4.2e-4,-0.95],[4.6e-4,-0.84],[5.0e-4,-0.91],[5.5e-4,-0.96],[6.0e-4,-0.88],[6.4e-4,-0.92],[6.9e-4,-0.83],[7.4e-4,-0.95],[8.2e-4,-0.90],[8.8e-4,-0.79],[9.5e-4,-0.91],[1.1e-3,-0.96],[1.2e-3,-0.85],[1.25e-3,-0.74]];

const bg18 = [[6.6e-5,-1.05],[7.1e-5,-0.99],[7.9e-5,-1.09],[8.4e-5,-1.15],[8.6e-5,-0.95],[9.3e-5,-1.03],[1.0e-4,-1.11],[1.03e-4,-0.93],[1.1e-4,-1.01],[1.18e-4,-1.07],[1.27e-4,-0.97],[1.33e-4,-1.13],[1.42e-4,-1.03],[1.5e-4,-0.91],[1.57e-4,-1.09],[1.62e-4,-0.99],[9.8e-5,-0.86],[1.27e-4,-0.86],[7.5e-5,-1.05],[8.8e-5,-1.07],[1.08e-4,-1.09],[1.21e-4,-1.03],[1.42e-4,-1.09],[1.14e-4,-0.95],[9.8e-5,-0.99],[1.5e-4,-1.05],[1.33e-4,-0.95],
  [7.3e-5,-1.02],[7.7e-5,-1.07],[8.1e-5,-0.98],[8.5e-5,-1.04],[9.0e-5,-1.10],[9.1e-5,-0.97],[9.6e-5,-1.06],[1.01e-4,-1.01],[1.05e-4,-1.06],[1.07e-4,-0.97],[1.12e-4,-1.12],[1.15e-4,-1.04],[1.2e-4,-0.99],[1.24e-4,-1.10],[1.3e-4,-1.01],[1.36e-4,-1.07],[1.4e-4,-0.98],[1.46e-4,-1.12],[1.53e-4,-1.00],[1.58e-4,-0.95],[1.6e-4,-1.05],[1.2e-4,-0.92],[1.05e-4,-0.90]];
const sa18 = [[1.68e-4,-0.99],[1.8e-4,-1.09],[1.95e-4,-1.03],[2.1e-4,-1.13],[2.29e-4,-0.97],[2.5e-4,-1.07],[2.7e-4,-1.01],[2.9e-4,-1.11],[3.15e-4,-0.95],[3.4e-4,-1.05],[3.7e-4,-0.99],[3.95e-4,-1.11],[4.34e-4,-1.03],[4.7e-4,-0.95],[5.1e-4,-1.09],[5.5e-4,-0.99],[5.95e-4,-1.05],[6.45e-4,-1.12],[7.0e-4,-0.97],[7.5e-4,-1.07],[8.2e-4,-1.01],[8.9e-4,-1.10],[9.6e-4,-0.95],[1.04e-3,-1.05],[1.13e-3,-0.99],[1.22e-3,-1.09],[1.32e-3,-1.03],[1.68e-3,-1.13],[2.3e-3,-1.11],[2.29e-4,-1.05],[3.5e-4,-1.09],[5.37e-4,-1.05],[8.2e-4,-1.07],[1.19e-3,-1.03],[3.0e-4,-1.03],[4.55e-4,-1.01],[6.6e-4,-1.03],[9.6e-4,-1.03],
  [1.72e-4,-1.04],[1.88e-4,-1.00],[2.0e-4,-1.08],[2.2e-4,-1.02],[2.4e-4,-1.10],[2.6e-4,-0.98],[2.8e-4,-1.06],[3.05e-4,-1.01],[3.25e-4,-1.09],[3.55e-4,-1.03],[3.8e-4,-1.06],[4.15e-4,-0.98],[4.5e-4,-1.07],[4.9e-4,-1.02],[5.25e-4,-1.12],[5.7e-4,-1.01],[6.2e-4,-1.08],[6.8e-4,-1.01],[7.2e-4,-1.10],[7.8e-4,-1.04],[8.5e-4,-0.98],[9.2e-4,-1.07],[1.0e-3,-1.10],[1.1e-3,-1.07],[1.25e-3,-1.01],[2.0e-4,-0.97],[3.8e-4,-1.12],[6.0e-4,-1.12],[8.0e-4,-1.12]];
const sm18 = [[1.75e-4,-0.93],[2.18e-4,-0.88],[2.42e-4,-0.94],[2.78e-4,-0.91],[3.15e-4,-0.83],[3.4e-4,-0.95],[3.8e-4,-0.88],[4.1e-4,-0.81],[4.45e-4,-0.93],[4.8e-4,-0.85],[5.2e-4,-0.96],[5.65e-4,-0.88],[6.1e-4,-0.83],[6.6e-4,-0.92],[7.2e-4,-0.86],[7.8e-4,-0.95],[8.4e-4,-0.85],[9.1e-4,-0.90],[9.9e-4,-0.83],[1.07e-3,-0.93],[1.15e-3,-0.86],[1.28e-3,-0.92],[2.14e-3,-0.92],[3.5e-4,-0.90],[5.65e-4,-0.97],[8.6e-4,-0.97],[2.55e-4,-0.97],
  [1.95e-4,-0.91],[2.3e-4,-0.92],[2.6e-4,-0.88],[2.95e-4,-0.94],[3.3e-4,-0.87],[3.6e-4,-0.92],[3.95e-4,-0.86],[4.3e-4,-0.89],[4.6e-4,-0.95],[5.0e-4,-0.88],[5.4e-4,-0.92],[5.9e-4,-0.87],[6.35e-4,-0.90],[6.9e-4,-0.88],[7.5e-4,-0.91],[8.1e-4,-0.88],[8.8e-4,-0.93],[9.5e-4,-0.87],[1.03e-3,-0.89],[1.1e-3,-0.92],[1.2e-3,-0.88],[7.0e-4,-0.83],[5.0e-4,-0.83]];

// background reference ranges per altitude: k1020 span and slope span
const K_RANGES = [[1.47e-5,3.9e-5],[8e-6,5.7e-5],[1.47e-5,7.9e-5],[8e-6,5.7e-5],[2.6e-5,1.55e-4],
                  [6.2e-5,2.1e-4],[9.6e-5,1.8e-4],[1.18e-4,1.86e-4],[6.5e-5,1.83e-4],[5.6e-5,1.63e-4]];
const SLOPE_RANGES = [[-1.19,-1.13],[-1.19,-1.08],[-1.23,-1.08],[-1.24,-1.03],[-1.22,-1.07],
                      [-1.21,-1.07],[-1.17,-1.00],[-1.15,-1.00],[-1.14,-1.00],[-1.13,-0.95]];

const X_TICKS = [1e-5, 1e-4, 1e-3, 1e-2];
const X_LIMITS = [1e-5, 2.87e-2];
const Y_LIMITS = [-1.7, -0.5];
const Y_MAJOR = [-0.5, -1.0, -1.5];
const Y_MAJOR_TEXT = ['\u22120.5', '\u22121.0', '\u22121.5'];

const SERIES = [[bg27, sa27, sm27], [bg26, sa26, sm26], [bg25, sa25, sm25], [bg24, sa24, sm24],
                [bg23, sa23, sm23], [bg22, sa22, sm22], [bg21, sa21, sm21], [bg20, sa20, sm20],
                [bg19, sa19, sm19], [bg18, sa18, sm18]];

// ---- layout and style ----
const COL_LEFT = [93, 345];
const ROW_TOP = [62, 161, 261, 360, 460];
const GRID_BOTTOM = 559;
const PANEL_W = 250;
const COLORS = ['#000000', '#0000ff', '#ff0000'];
const GRID = '#b0b0b0';
const FONT = "'DejaVu Sans', sans-serif";

Chart.defaults.font.family = FONT;

const majorIndex = v => Y_MAJOR.findIndex(m => Math.abs(m - v) < 1e-6);

const panelDecor = {
  id: 'panelDecor',
  beforeDraw(chart, args, o) {
    const { ctx, chartArea: a, scales: { x, y } } = chart;
    ctx.save();
    ctx.beginPath();
    ctx.rect(a.left, a.top, a.right - a.left, a.bottom - a.top);
    ctx.clip();
    ctx.fillStyle = 'rgba(128,128,128,0.22)';
    const x0 = x.getPixelForValue(o.kRange[0]), x1 = x.getPixelForValue(o.kRange[1]);
    ctx.fillRect(x0, a.top, x1 - x0, a.bottom - a.top);
    const y0 = y.getPixelForValue(o.sRange[1]), y1 = y.getPixelForValue(o.sRange[0]);
    ctx.fillRect(a.left, y0, a.right - a.left, y1 - y0);
    ctx.restore();
  },
  afterDatasetsDraw(chart, args, o) {
    const { ctx, chartArea: a, scales: { x, y } } = chart;
    ctx.save();
    ctx.strokeStyle = '#000';
    ctx.lineWidth = 1.3;
    // inward ticks on the left (minor every 0.1)
    y.ticks.forEach(t => {
      const py = y.getPixelForValue(t.value);
      const len = majorIndex(t.value) >= 0 ? 7 : 4;
      ctx.beginPath(); ctx.moveTo(a.left, py); ctx.lineTo(a.left + len, py); ctx.stroke();
    });
    // inward ticks on bottom and top
    X_TICKS.forEach(v => {
      const px = x.getPixelForValue(v);
      ctx.beginPath();
      ctx.moveTo(px, a.bottom); ctx.lineTo(px, a.bottom - 7);
      ctx.moveTo(px, a.top); ctx.lineTo(px, a.top + 7);
      ctx.stroke();
    });
    // frame
    ctx.lineWidth = 1.5;
    ctx.strokeRect(a.left, a.top, a.right - a.left, a.bottom - a.top);
    // panel title
    ctx.fillStyle = '#000';
    ctx.textBaseline = 'alphabetic';
    ctx.textAlign = 'left';
    ctx.font = '20px ' + FONT;
    ctx.fillText(o.label, a.left + 8, a.top + 21);
    // decade labels under the bottom row
    (o.xLabels || []).forEach(v => {
      const px = x.getPixelForValue(v);
      const base = '10', sup = '\u2212' + Math.abs(Math.round(Math.log10(v)));
      ctx.font = '19px ' + FONT;
      const wb = ctx.measureText(base).width;
      ctx.font = '13.5px ' + FONT;
      const ws = ctx.measureText(sup).width;
      const left = px - (wb + ws) / 2;
      ctx.font = '19px ' + FONT;
      ctx.fillText(base, left, a.bottom + 26);
      ctx.font = '13.5px ' + FONT;
      ctx.fillText(sup, left + wb + 0.5, a.bottom + 17);
    });
    ctx.restore();
  }
};

// the scales keep their fixed sizes; no extra room for overhanging labels
const fixBox = (s, w, h) => {
  if (w !== null) s.width = w;
  if (h !== null) s.height = h;
  s.paddingTop = 0; s.paddingBottom = 0; s.paddingLeft = 0; s.paddingRight = 0;
};

PANEL_LABELS.forEach((label, i) => {
  const r = Math.floor(i / 2), c = i % 2;
  const top = ROW_TOP[r];
  const h = (r < ROW_TOP.length - 1 ? ROW_TOP[r + 1] : GRID_BOTTOM) - top;
  const padL = c === 0 ? 93 : 2;
  const padT = r === 0 ? 14 : 2;
  const padB = r === ROW_TOP.length - 1 ? 50 : 2;
  const W = padL + PANEL_W + 2, H = padT + h + padB;
  const cv = document.createElement('canvas');
  cv.width = W; cv.height = H;
  cv.style.left = (COL_LEFT[c] - padL) + 'px';
  cv.style.top = (top - padT) + 'px';
  cv.style.width = W + 'px'; cv.style.height = H + 'px';
  document.body.appendChild(cv);

  const names = ['Background', 'Sulfuric Acid', 'Smoke'];
  const datasets = SERIES[i].map((pts, k) => ({
    label: names[k],
    data: pts,
    backgroundColor: COLORS[k],
    borderWidth: 0,
    pointRadius: 2.6,
    pointHoverRadius: 2.6,
    order: 3 - k
  }));

  new Chart(cv, {
    type: 'scatter',
    data: { datasets },
    plugins: [panelDecor],
    options: {
      responsive: false,
      animation: false,
      devicePixelRatio: 1,
      events: [],
      layout: { padding: { top: padT, right: 2, left: 0, bottom: 0 } },
      plugins: {
        legend: { display: false },
        tooltip: { enabled: false },
        panelDecor: {
          label,
          kRange: K_RANGES[i],
          sRange: SLOPE_RANGES[i],
          xLabels: r === ROW_TOP.length - 1 ? (c === 0 ? X_TICKS : X_TICKS.slice(1)) : null
        }
      },
      scales: {
        x: {
          type: 'logarithmic',
          min: X_LIMITS[0], max: X_LIMITS[1],
          afterBuildTicks: s => { s.ticks = X_TICKS.map(v => ({ value: v })); },
          afterFit: s => fixBox(s, null, padB),
          ticks: { display: false },
          grid: { color: GRID, lineWidth: 1.6, drawTicks: false },
          border: { display: false }
        },
        y: {
          type: 'linear',
          min: Y_LIMITS[0], max: Y_LIMITS[1],
          afterFit: s => fixBox(s, padL, null),
          ticks: {
            display: c === 0,
            stepSize: 0.1,
            autoSkip: false,
            padding: 9,
            color: '#000',
            font: { size: 19, family: FONT },
            callback: v => {
              const m = majorIndex(v);
              if (m < 0 || (m === 0 && r !== 0)) return '';
              return Y_MAJOR_TEXT[m];
            }
          },
          grid: {
            color: ctx => (ctx.tick && majorIndex(ctx.tick.value) >= 0) ? GRID : 'rgba(0,0,0,0)',
            lineWidth: 1.6,
            drawTicks: false
          },
          border: { display: false }
        }
      }
    }
  });
});
</script>
</body>
</html>
